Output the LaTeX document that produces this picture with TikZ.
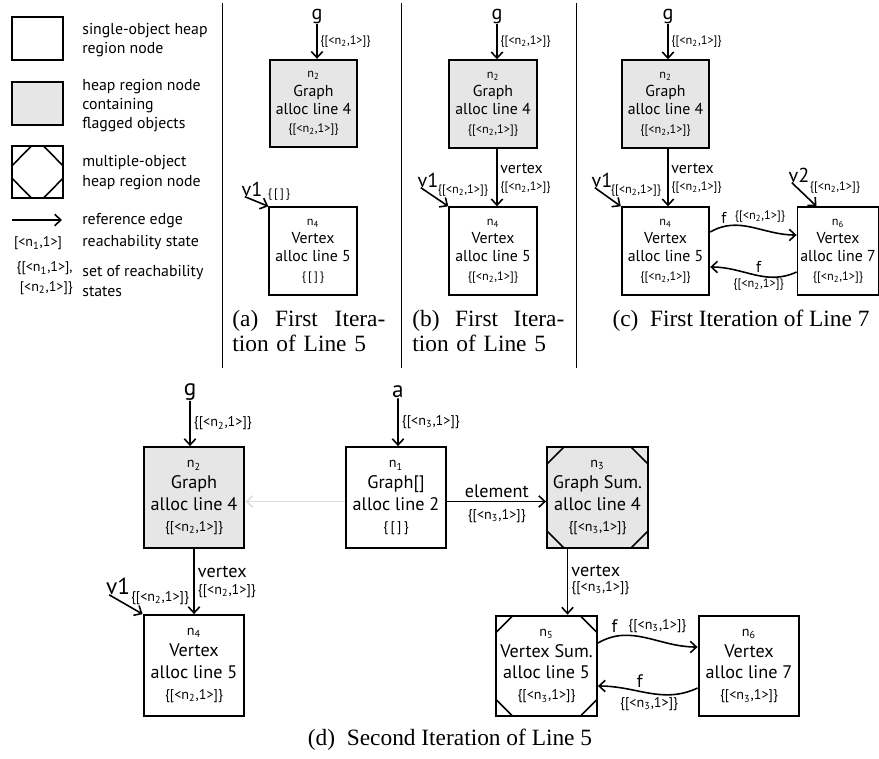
\documentclass[tikz,border=0pt]{standalone}
\usepackage{fontspec}
\setmainfont{Liberation Serif}
\setsansfont{PT Sans}
\usetikzlibrary{arrows.meta,calc,positioning}
\definecolor{flaggray}{RGB}{230,230,230}
\definecolor{faintgray}{RGB}{222,222,222}
\newcommand{\rs}[1]{\{[<n\textsubscript{#1},1>]\}}
\newcommand{\rsnone}{\{\,[\,]\,\}}
\newcommand{\nlab}[1]{{\fontsize{7}{7}\selectfont n\textsubscript{#1}}}
\newcommand{\slab}[1]{{\fontsize{7}{8}\selectfont #1}}

\tikzset{
  heapnode/.style={draw, line width=1.1pt, minimum width=1.75cm, minimum height=1.75cm,
    inner sep=0pt, align=center, font=\sffamily\fontsize{9}{10.5}\selectfont},
  flagged/.style={fill=flaggray},
  multiobj/.style={path picture={
    \draw[line width=0.9pt]
      ($(path picture bounding box.north west)!#1!(path picture bounding box.south west)$) --
      ($(path picture bounding box.north west)!#1!(path picture bounding box.north east)$)
      ($(path picture bounding box.north east)!#1!(path picture bounding box.north west)$) --
      ($(path picture bounding box.north east)!#1!(path picture bounding box.south east)$)
      ($(path picture bounding box.south east)!#1!(path picture bounding box.north east)$) --
      ($(path picture bounding box.south east)!#1!(path picture bounding box.south west)$)
      ($(path picture bounding box.south west)!#1!(path picture bounding box.south east)$) --
      ($(path picture bounding box.south west)!#1!(path picture bounding box.north west)$);
  }},
  multiobj/.default=0.165,
  reflabel/.style={font=\sffamily\fontsize{7}{8}\selectfont, inner sep=1.5pt},
  fieldlabel/.style={font=\sffamily\fontsize{9}{10}\selectfont, inner sep=1.5pt},
  varname/.style={font=\sffamily\fontsize{11.5}{12}\selectfont, inner sep=0pt},
  legendtext/.style={font=\sffamily\fontsize{9}{11}\selectfont, align=left, anchor=west, inner sep=0pt},
  subcaption/.style={font=\rmfamily\fontsize{13.3}{14.2}\selectfont, inner sep=0pt},
  refedge/.style={->, line width=0.9pt},
  separator/.style={line width=0.5pt},
  >={Straight Barb[length=3.5pt,width=6.5pt]}
}

\begin{document}
\begin{tikzpicture}[x=0.02cm, y=0.02cm]
  \useasboundingbox (0,0) rectangle (879,-758);

  % Legend
  \node[heapnode, minimum width=1.02cm, minimum height=0.86cm] (lsingle) at (37.5,-38.5) {};
  \node[legendtext] (lsingletxt) at (82,-40) {single-object heap\\region node};
  \node[heapnode, flagged, minimum width=1.02cm, minimum height=0.86cm] (lflag) at (37.5,-103.5) {};
  \node[legendtext] (lflagtxt) at (82,-105.5) {heap region node\\containing\\flagged objects};
  \node[heapnode, multiobj=0.38, minimum width=1.02cm, minimum height=1.04cm] (lmulti) at (37.5,-172) {};
  \node[legendtext] (lmultitxt) at (82,-172.5) {multiple-object\\heap region node};
  \coordinate (lrefS) at (12,-220);
  \coordinate (lrefE) at (62,-220);
  \draw[refedge] (lrefS) -- (lrefE);
  \node[legendtext] (lreftxt) at (82,-221) {reference edge};
  \node[font=\sffamily\fontsize{8}{9}\selectfont, inner sep=0pt] (lstate) at (38,-243) {[<n\textsubscript{1},1>]};
  \node[legendtext] (lstatetxt) at (82,-243) {reachability state};
  \node[font=\sffamily\fontsize{8}{11}\selectfont, align=right, anchor=east, inner sep=0pt] (lset) at (73,-278)
    {\{[<n\textsubscript{1},1>],\\{}[<n\textsubscript{2},1>]\}};
  \node[legendtext] (lsettxt) at (82,-281) {set of reachability\\states};

  % Separators
  \draw[separator] (222,-3) -- (222,-368);
  \draw[separator] (401,-3) -- (401,-368);
  \draw[separator] (576,-3) -- (576,-368);

  % (a)
  \node[varname] (ga) at (317,-16) {g};
  \node[heapnode, flagged] (n2a) at (313.5,-103.5) {\nlab{2}\\Graph\\alloc line 4\\\slab{\rs{2}}};
  \draw[refedge] (ga) -- (ga |- n2a.north) node[reflabel, midway, right] {\rs{2}};
  \node[heapnode] (n4a) at (313,-251) {\nlab{4}\\Vertex\\alloc line 5\\\slab{\rsnone}};
  \node[varname] (v1a) at (252,-189) {v1};
  \node[reflabel] (v1alab) at (279,-195) {\rsnone};
  \draw[refedge] ([xshift=2pt]v1a.south west) -- (n4a.north west);
  \node[subcaption, text width=3.06cm, align=left, anchor=north west] (capa) at (232,-310)
    {(a)\hfill First\hfill Itera-\\tion of Line 5};

  % (b)
  \node[varname] (gb) at (497,-16) {g};
  \node[heapnode, flagged] (n2b) at (493,-104) {\nlab{2}\\Graph\\alloc line 4\\\slab{\rs{2}}};
  \draw[refedge] (gb) -- (gb |- n2b.north) node[reflabel, midway, right] {\rs{2}};
  \node[heapnode] (n4b) at (493,-251) {\nlab{4}\\Vertex\\alloc line 5\\\slab{\rs{2}}};
  \draw[refedge] (n2b.south -| gb) -- (n4b.north -| gb)
    node[fieldlabel, pos=0.34, right] {vertex} node[reflabel, pos=0.68, right] {\rs{2}};
  \node[varname] (v1b) at (428,-180) {v1};
  \node[reflabel] (v1blab) at (463,-191) {\rs{2}};
  \draw[refedge] ([xshift=2pt]v1b.south west) -- (n4b.north west);
  \node[subcaption, text width=3.04cm, align=left, anchor=north west] (capb) at (412,-310)
    {(b)\hfill First\hfill Itera-\\tion of Line 5};

  % (c)
  \node[varname] (gc) at (668,-16) {g};
  \node[heapnode, flagged] (n2c) at (665.5,-104) {\nlab{2}\\Graph\\alloc line 4\\\slab{\rs{2}}};
  \draw[refedge] (gc) -- (gc |- n2c.north) node[reflabel, midway, right] {\rs{2}};
  \node[heapnode] (n4c) at (665.5,-251) {\nlab{4}\\Vertex\\alloc line 5\\\slab{\rs{2}}};
  \draw[refedge] (n2c.south -| gc) -- (n4c.north -| gc)
    node[fieldlabel, pos=0.34, right] {vertex} node[reflabel, pos=0.68, right] {\rs{2}};
  \node[varname] (v1c) at (602,-180) {v1};
  \node[reflabel] (v1clab) at (636,-191) {\rs{2}};
  \draw[refedge] ([xshift=2pt]v1c.south west) -- (n4c.north west);
  \node[heapnode, minimum width=1.62cm] (n6c) at (838,-251) {\nlab{6}\\Vertex\\alloc line 7\\\slab{\rs{2}}};
  \node[varname] (v2c) at (799,-175) {v2};
  \node[reflabel] (v2clab) at (835,-188) {\rs{2}};
  \draw[refedge] ([xshift=2pt]v2c.south west) -- ([xshift=0.4cm]n6c.north west);
  \draw[refedge] ($(n4c.east)+(0,19)$) to[out=30,in=180]
    node[fieldlabel, pos=0.16, above] {f} node[reflabel, pos=0.6, above=2pt] {\rs{2}}
    ($(n6c.west)+(0,16)$);
  \draw[refedge] ($(n6c.west)+(0,-21)$) to[out=205,in=0]
    node[fieldlabel, pos=0.45, above] {f} node[reflabel, pos=0.45, below] {\rs{2}}
    ($(n4c.east)+(0,-16)$);
  \node[subcaption, anchor=base] (capc) at (741,-326) {(c)\enspace First Iteration of Line 7};

  % (d)
  \begin{scope}[every node/.append style={scale=1.15}]
    \node[varname] (gd) at (190,-392) {g};
    \node[heapnode, flagged] (n2d) at (194,-497.5) {\nlab{2}\\Graph\\alloc line 4\\\slab{\rs{2}}};
    \draw[refedge] (gd) -- (gd |- n2d.north) node[reflabel, midway, right] {\rs{2}};
    \node[varname] (ad) at (398,-392) {a};
    \node[heapnode] (n1d) at (396,-497.5) {\nlab{1}\\Graph[]\\alloc line 2\\\slab{\rsnone}};
    \draw[refedge] (ad) -- (ad |- n1d.north) node[reflabel, midway, right] {\rs{3}};
    \node[heapnode, flagged, multiobj] (n3d) at (597.5,-497.5) {\nlab{3}\\Graph Sum.\\alloc line 4\\\slab{\rs{3}}};
    \draw[refedge, faintgray] ([yshift=-0.08cm]n1d.west) -- ([yshift=-0.08cm]n2d.east);
    \draw[refedge] ([yshift=-0.08cm]n1d.east) -- ([yshift=-0.08cm]n3d.west)
      node[fieldlabel, midway, above] {element} node[reflabel, midway, below=2pt] {\rs{3}};
    \node[heapnode] (n4d) at (194,-665.5) {\nlab{4}\\Vertex\\alloc line 5\\\slab{\rs{2}}};
    \draw[refedge] (n2d) -- (n4d)
      node[fieldlabel, pos=0.36, right] {vertex} node[reflabel, pos=0.64, right] {\rs{2}};
    \node[varname] (v1d) at (118,-586) {v1};
    \node[reflabel] (v1dlab) at (160,-598) {\rs{2}};
    \draw[refedge] ([xshift=2pt]v1d.south west) -- (n4d.north west);
    \node[heapnode, multiobj] (n5d) at (546.5,-666) {\nlab{5}\\Vertex Sum.\\alloc line 5\\\slab{\rs{3}}};
    \coordinate (vtop) at ([xshift=-0.6cm]n3d.south);
    \draw[refedge] (vtop) -- (vtop |- n5d.north)
      node[fieldlabel, pos=0.33, right] {vertex} node[reflabel, pos=0.6, right] {\rs{3}};
    \node[heapnode] (n6d) at (749,-666) {\nlab{6}\\Vertex\\alloc line 7\\\slab{\rs{3}}};
    \draw[refedge] ($(n5d.east)+(0,23)$) to[out=30,in=180]
      node[fieldlabel, pos=0.17, above] {f} node[reflabel, pos=0.62, above=2pt] {\rs{3}}
      ($(n6d.west)+(0,19)$);
    \draw[refedge] ($(n6d.west)+(0,-22)$) to[out=205,in=0]
      node[fieldlabel, pos=0.6, above] {f} node[reflabel, pos=0.5, below] {\rs{3}}
      ($(n5d.east)+(0,-20)$);
  \end{scope}
  \node[subcaption, anchor=base] (capd) at (450,-745) {(d)\enspace Second Iteration of Line 5};
\end{tikzpicture}
\end{document}
